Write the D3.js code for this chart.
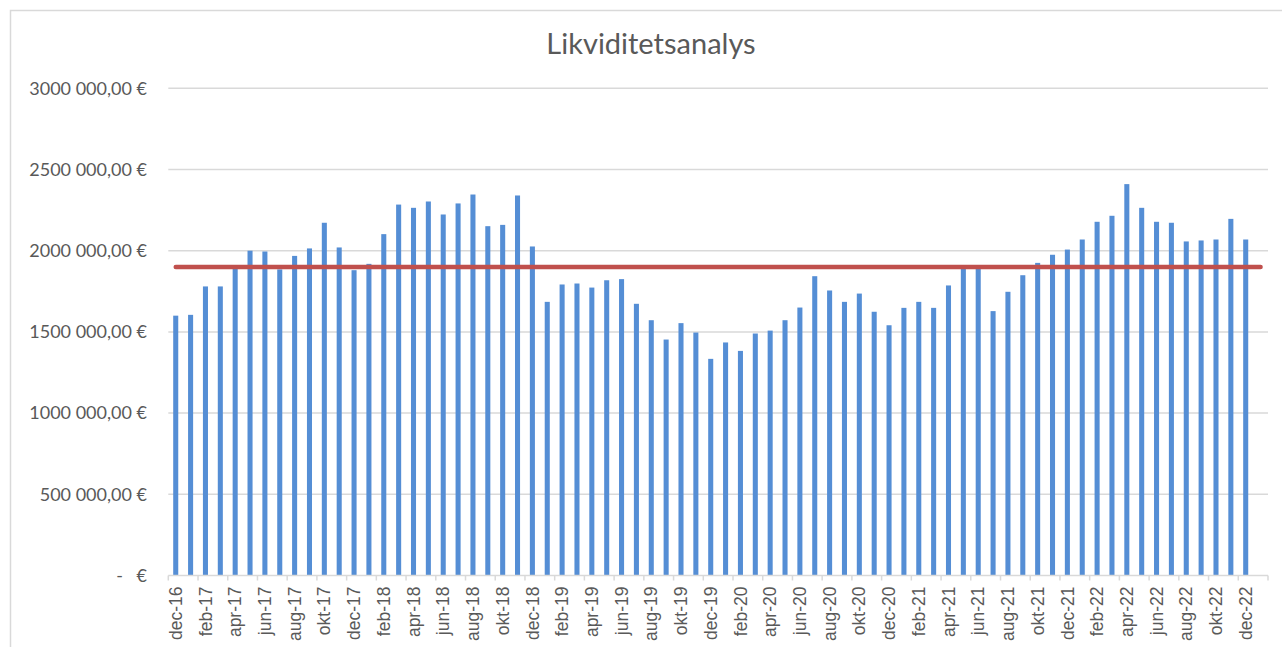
<!DOCTYPE html>
<html>
<head>
<meta charset="utf-8">
<script src="https://cdn.jsdelivr.net/npm/d3@7"></script>
<style>
  body { margin: 0; background: #fff; }
  svg { display: block; font-family: Lato, "Open Sans", sans-serif; }
  .tick-label { fill: #595959; }
</style>
</head>
<body>
<svg id="chart" width="1282" height="647"></svg>
<script>
// months in Swedish, chart runs dec-16 .. jan-23 (last slot has no bar)
const monthNames = ['jan', 'feb', 'mar', 'apr', 'maj', 'jun', 'jul', 'aug', 'sep', 'okt', 'nov', 'dec'];
const categories = ['dec-16'];
for (let y = 17; y <= 22; y++) monthNames.forEach(m => categories.push(`${m}-${y}`));
categories.push('jan-23');

// liquidity per month (€), dec-16 .. dec-22
const liquidity = [
  1600000,
  1605000, 1780000, 1780000, 1890000, 2000000, 1995000, 1885000, 1968000, 2014000, 2172000, 2020000, 1880000,
  1919000, 2102000, 2284000, 2264000, 2303000, 2223000, 2291000, 2346000, 2151000, 2159000, 2340000, 2026000,
  1685000, 1792000, 1798000, 1773000, 1818000, 1825000, 1673000, 1572000, 1453000, 1554000, 1496000, 1334000,
  1435000, 1383000, 1490000, 1508000, 1572000, 1650000, 1843000, 1755000, 1685000, 1736000, 1624000, 1541000,
  1648000, 1685000, 1648000, 1786000, 1890000, 1895000, 1628000, 1747000, 1849000, 1925000, 1975000, 2007000,
  2069000, 2178000, 2215000, 2410000, 2264000, 2178000, 2172000, 2057000, 2063000, 2069000, 2196000, 2069000
];

// target level line, one value per category slot
const targetLevel = categories.map(() => 1900000);

const yTicks = [0, 500000, 1000000, 1500000, 2000000, 2500000, 3000000];
const xTickLabels = categories.filter((c, i) => i % 2 === 0 && i < liquidity.length);

const svg = d3.select('#chart');
const plot = { left: 168.3, right: 1268, top: 88.3, bottom: 575.5 };

// chart frame
svg.append('rect')
  .attr('x', 10.5).attr('y', 10.5)
  .attr('width', 1300).attr('height', 660)
  .attr('fill', '#fff')
  .attr('stroke', '#d9d9d9').attr('stroke-width', 1.5);

svg.append('text')
  .attr('x', 651).attr('y', 54)
  .attr('text-anchor', 'middle')
  .attr('font-size', 29)
  .attr('fill', '#595959')
  .text('Likviditetsanalys');

const x = d3.scaleBand()
  .domain(categories)
  .range([plot.left, plot.right])
  .paddingInner(0.66)
  .paddingOuter(0.33);

const y = d3.scaleLinear()
  .domain([0, 3000000])
  .range([plot.bottom, plot.top]);

function euro(v) {
  const first = Math.floor(v / 1000);
  const rest = String(v % 1000).padStart(3, '0');
  return `${first} ${rest},00 €`;
}

// gridlines
svg.append('g')
  .selectAll('line')
  .data(yTicks.filter(d => d > 0))
  .enter().append('line')
  .attr('x1', plot.left).attr('x2', plot.right)
  .attr('y1', d => y(d)).attr('y2', d => y(d))
  .attr('stroke', '#d9d9d9').attr('stroke-width', 1.5);

// y labels
const yl = svg.append('g').attr('font-size', 18).attr('fill', '#595959');
yl.selectAll('text.val')
  .data(yTicks.filter(d => d > 0))
  .enter().append('text')
  .attr('class', 'val')
  .attr('x', 147).attr('y', d => y(d))
  .attr('dy', '0.35em')
  .attr('text-anchor', 'end')
  .text(euro);
yl.append('text').attr('x', 147).attr('y', y(0)).attr('dy', '0.35em')
  .attr('text-anchor', 'end').text('€');
yl.append('text').attr('x', 123).attr('y', y(0)).attr('dy', '0.35em')
  .attr('text-anchor', 'end').text('-');

// bars
svg.append('g')
  .selectAll('rect')
  .data(liquidity)
  .enter().append('rect')
  .attr('x', (d, i) => x(categories[i]))
  .attr('y', d => y(d))
  .attr('width', x.bandwidth())
  .attr('height', d => y(0) - y(d))
  .attr('fill', '#558ed5');

// x axis
const xAxis = d3.axisBottom(x)
  .tickValues(xTickLabels)
  .tickSize(0)
  .tickPadding(0);
const gx = svg.append('g')
  .attr('transform', `translate(0,${y(0)})`)
  .call(xAxis);
gx.select('.domain').remove();
gx.selectAll('text')
  .attr('class', 'tick-label')
  .attr('font-size', 17.5)
  .attr('fill', '#595959')
  .attr('transform', 'rotate(-90)')
  .attr('text-anchor', 'end')
  .attr('x', -11).attr('y', 0)
  .attr('dy', '0.35em');

svg.append('line')
  .attr('x1', plot.left).attr('x2', plot.right)
  .attr('y1', y(0)).attr('y2', y(0))
  .attr('stroke', '#d9d9d9').attr('stroke-width', 1.5);

// tick marks at every second category boundary
const step = x.step();
const boundaries = d3.range(0, categories.length + 1, 2).map(i => plot.left + i * step);
svg.append('g')
  .selectAll('line')
  .data(boundaries)
  .enter().append('line')
  .attr('x1', d => d).attr('x2', d => d)
  .attr('y1', y(0)).attr('y2', y(0) + 5)
  .attr('stroke', '#d9d9d9').attr('stroke-width', 1.5);

// target line
const line = d3.line()
  .x((d, i) => x(categories[i]) + x.bandwidth() / 2)
  .y(d => y(d));
svg.append('path')
  .datum(targetLevel)
  .attr('d', line)
  .attr('fill', 'none')
  .attr('stroke', '#c0504d')
  .attr('stroke-width', 4.5)
  .attr('stroke-linecap', 'round');
</script>
</body>
</html>
